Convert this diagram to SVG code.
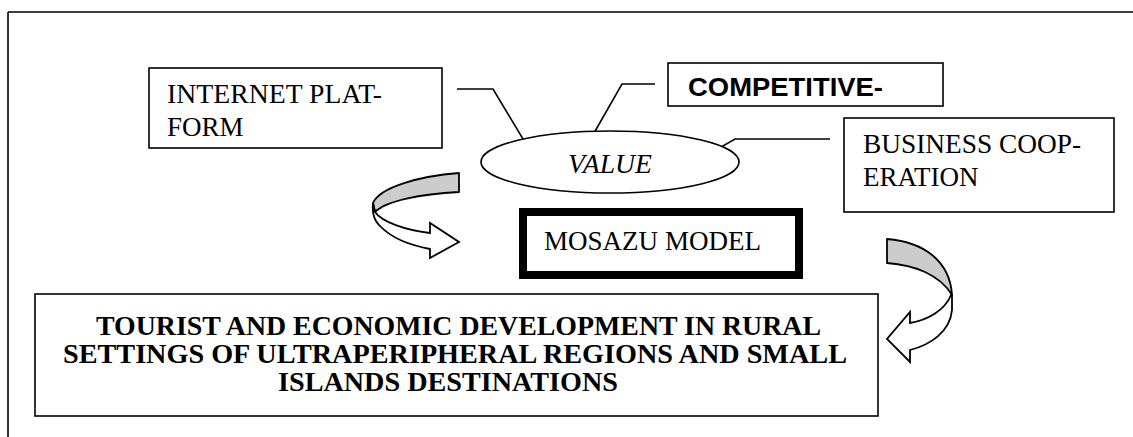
<svg xmlns="http://www.w3.org/2000/svg" width="1133" height="437" viewBox="0 0 1133 437">
<style>
.box{fill:#fff;stroke:#000;stroke-width:1.6}
.conn{fill:none;stroke:#000;stroke-width:1.6}
.t{font-family:'Liberation Serif','Times New Roman',serif;font-size:27px;fill:#000}
.b{font-weight:bold;font-size:28px}
.gray{fill:#cccccc;stroke:#000;stroke-width:1.8;stroke-linejoin:round}
.white{fill:#fff;stroke:#000;stroke-width:1.8;stroke-linejoin:miter}
</style>
<rect x="0" y="0" width="1133" height="437" fill="#fff"/>
<g id="frame">
<path d="M8,12 L1133,12 M8,12 L8,437" fill="none" stroke="#000" stroke-width="1.6"/>
</g>
<g id="connectors">
<path class="conn" d="M457,89 L493,89 L532,154"/>
<path class="conn" d="M655,84 L622,84 L590,140"/>
<path class="conn" d="M830,139 L735,139 L702,158"/>
</g>
<g id="internet-platform">
<rect class="box" x="149" y="68" width="293" height="80"/>
<text class="t" x="167" y="103" textLength="215" lengthAdjust="spacingAndGlyphs">INTERNET PLAT-</text>
<text class="t" x="167" y="135.5">FORM</text>
</g>
<g id="competitive">
<rect class="box" x="668" y="63" width="275" height="43"/>
<text x="688" y="96" textLength="195" lengthAdjust="spacingAndGlyphs" font-family="Liberation Sans, Arial, sans-serif" font-weight="bold" font-size="25">COMPETITIVE-</text>
</g>
<g id="value">
<ellipse cx="610" cy="162" rx="129" ry="31" fill="#fff" stroke="#000" stroke-width="1.6"/>
<text class="t" x="568" y="173" font-style="italic" textLength="84" lengthAdjust="spacingAndGlyphs">VALUE</text>
</g>
<g id="business-cooperation">
<rect class="box" x="844" y="118" width="270" height="94"/>
<text class="t" x="863" y="153" textLength="218" lengthAdjust="spacingAndGlyphs">BUSINESS COOP-</text>
<text class="t" x="863" y="186">ERATION</text>
</g>
<g id="mosazu-model">
<rect x="523" y="212" width="276" height="63" fill="#fff" stroke="#000" stroke-width="8"/>
<text class="t" x="544" y="250" textLength="217" lengthAdjust="spacingAndGlyphs">MOSAZU MODEL</text>
</g>
<g id="left-arrow">
<path class="gray" d="M459,173 L459,192 C420,194 386,201 375,212 L373,203 C380,187 420,176 459,173 Z"/>
<path class="white" d="M373,203 C372,212 373,219 379,225 C392,239 410,245 430,249 L430,258 L459,242 L430,223 L430,233 C405,230 382,222 375,212 Z"/>
</g>
<g id="right-arrow">
<path class="gray" d="M887,239 C925,242 950,262 952,295 C940,275 915,265 887,263 Z"/>
<path class="white" d="M952,295 L952,310 C950,332 930,345 910,350 L910,362 L887,339 L910,312 L910,323 C928,320 945,310 951,295 Z"/>
</g>
<g id="tourist-development">
<rect class="box" x="35" y="294" width="843" height="122"/>
<text class="t b" x="96" y="335" textLength="725" lengthAdjust="spacingAndGlyphs">TOURIST AND ECONOMIC DEVELOPMENT IN RURAL</text>
<text class="t b" x="63" y="363" textLength="784" lengthAdjust="spacingAndGlyphs">SETTINGS OF ULTRAPERIPHERAL REGIONS AND SMALL</text>
<text class="t b" x="278" y="391" textLength="340" lengthAdjust="spacingAndGlyphs">ISLANDS DESTINATIONS</text>
</g>
</svg>
